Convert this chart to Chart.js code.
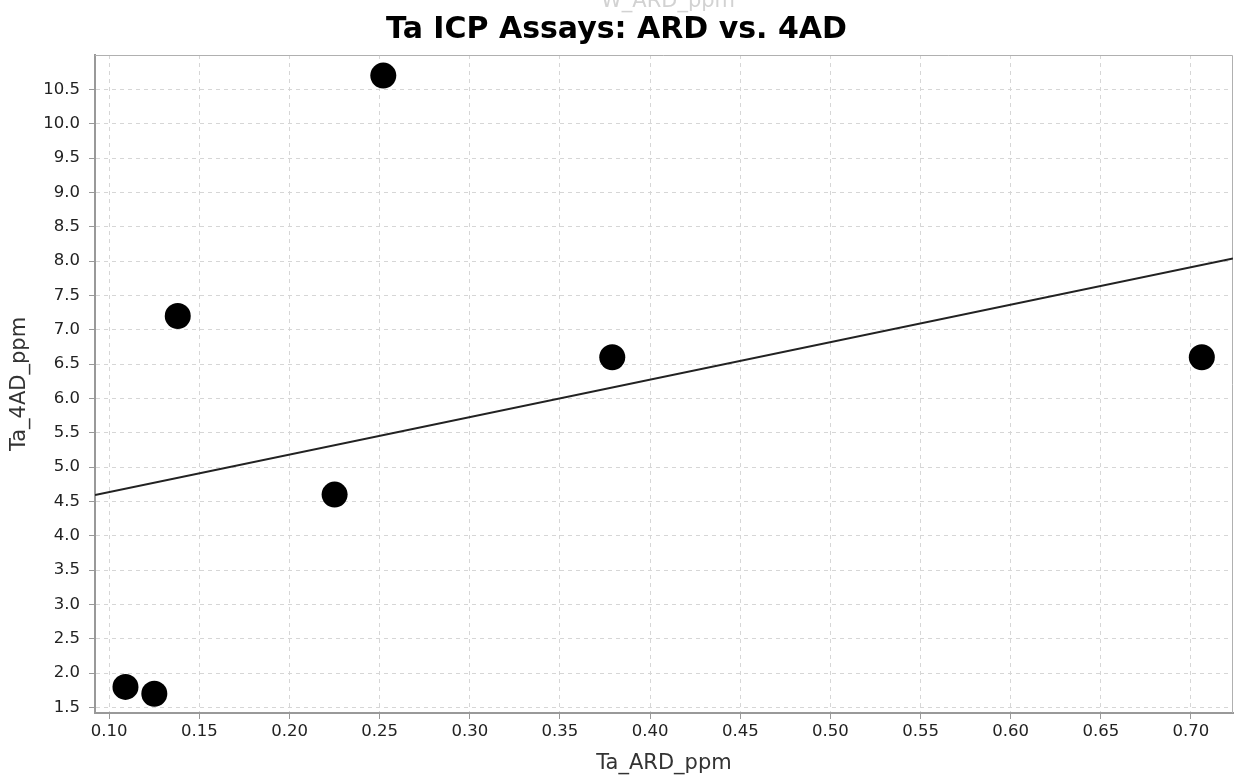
<!DOCTYPE html>
<html>
<head>
<meta charset="utf-8">
<title>Ta ICP Assays: ARD vs. 4AD</title>
<script src="https://cdn.jsdelivr.net/npm/chart.js@4/dist/chart.umd.min.js"></script>
<style>
  html, body { margin: 0; padding: 0; background: #fff; }
  canvas { display: block; }
</style>
</head>
<body>
<canvas id="taChart" width="1237" height="776"></canvas>
<script>
const ardPpm = [0.109, 0.125, 0.138, 0.225, 0.252, 0.379, 0.706];
const fourAdPpm = [1.8, 1.7, 7.2, 4.6, 10.7, 6.6, 6.6];

// Achsen
const xTicks = [0.10, 0.15, 0.20, 0.25, 0.30, 0.35, 0.40, 0.45, 0.50, 0.55, 0.60, 0.65, 0.70];
const yTicks = [1.5, 2.0, 2.5, 3.0, 3.5, 4.0, 4.5, 5.0, 5.5, 6.0, 6.5, 7.0, 7.5, 8.0, 8.5, 9.0, 9.5, 10.0, 10.5];
const xRange = [0.0921, 0.7233];
const yRange = [1.42, 11.0];

const FONT = "'DejaVu Sans', 'Liberation Sans', sans-serif";

/*
Lineare Regression (kleinste Quadrate) fuer die Trendlinie.
 */
function fitLine(xs, ys) {
    const n = xs.length;
    const mx = xs.reduce((a, b) => a + b, 0) / n;
    const my = ys.reduce((a, b) => a + b, 0) / n;
    let sxy = 0, sxx = 0;
    for (let i = 0; i < n; i++) {
        sxy += (xs[i] - mx) * (ys[i] - my);
        sxx += (xs[i] - mx) * (xs[i] - mx);
    }
    const slope = sxy / sxx;
    return {slope: slope, intercept: my - slope * mx};
}

const fit = fitLine(ardPpm, fourAdPpm);
const trend = xRange.map((x) => ({x: x, y: fit.intercept + fit.slope * x}));

// Rahmen oben/rechts + halb verdeckter Text ganz oben
const framePlugin = {
    id: 'frame',
    beforeDatasetsDraw(chart) {
        const {ctx, chartArea} = chart;
        ctx.save();
        ctx.strokeStyle = '#b0b0b0';
        ctx.lineWidth = 1;
        ctx.beginPath();
        ctx.moveTo(chartArea.left, chartArea.top + 0.5);
        ctx.lineTo(chartArea.right - 0.5, chartArea.top + 0.5);
        ctx.lineTo(chartArea.right - 0.5, chartArea.bottom);
        ctx.stroke();
        ctx.restore();
    },
    afterDraw(chart) {
        const ctx = chart.ctx;
        ctx.save();
        ctx.font = "21px " + FONT;
        ctx.fillStyle = '#d2d2d2';
        ctx.textAlign = 'left';
        ctx.textBaseline = 'alphabetic';
        ctx.fillText('W_ARD_ppm', 601, 7);
        ctx.restore();
    }
};

const ctx = document.getElementById('taChart');
const myScatterChart = new Chart(ctx, {
    type: 'scatter',
    data: {
        datasets: [{
            type: 'line',
            data: trend,
            borderColor: '#222',
            borderWidth: 2,
            pointRadius: 0,
            fill: false
        }, {
            data: ardPpm.map((x, i) => ({x: x, y: fourAdPpm[i]})),
            backgroundColor: '#000',
            borderWidth: 0,
            pointRadius: 13,
            pointHoverRadius: 13
        }]
    },
    options: {
        responsive: false,
        animation: false,
        devicePixelRatio: 1,
        layout: {autoPadding: false, padding: {left: 0, right: 4, top: 0, bottom: 0}},
        plugins: {
            legend: {display: false},
            tooltip: {enabled: false},
            title: {
                display: true,
                text: 'Ta ICP Assays: ARD vs. 4AD',
                color: '#000',
                font: {family: FONT, size: 30, weight: 'bold'},
                padding: {top: 12, bottom: 7}
            }
        },
        scales: {
            x: {
                type: 'linear',
                min: xRange[0],
                max: xRange[1],
                afterBuildTicks: (scale) => {
                    scale.ticks = xTicks.map((v) => ({value: v}));
                },
                afterFit: (scale) => {
                    scale.height = 63;
                },
                ticks: {
                    color: '#222',
                    font: {family: FONT, size: 16.5},
                    padding: 3,
                    maxRotation: 0,
                    autoSkip: false,
                    callback: (v) => Number(v).toFixed(2)
                },
                grid: {
                    color: '#d6d6d6',
                    tickColor: '#999',
                    tickLength: 6,
                    tickBorderDash: [1, 0]
                },
                border: {color: '#999', width: 2, dash: [4, 4]},
                title: {
                    display: true,
                    text: 'Ta_ARD_ppm',
                    color: '#333',
                    font: {family: FONT, size: 21},
                    padding: {top: 0, bottom: 0}
                }
            },
            y: {
                type: 'linear',
                min: yRange[0],
                max: yRange[1],
                afterBuildTicks: (scale) => {
                    scale.ticks = yTicks.map((v) => ({value: v}));
                },
                afterFit: (scale) => {
                    scale.width = 95;
                },
                ticks: {
                    color: '#222',
                    font: {family: FONT, size: 16.5},
                    padding: 9,
                    autoSkip: false,
                    callback: (v) => Number(v).toFixed(1)
                },
                grid: {
                    color: '#d6d6d6',
                    tickColor: '#999',
                    tickLength: 6,
                    tickBorderDash: [1, 0]
                },
                border: {color: '#999', width: 2, dash: [4, 4]},
                title: {
                    display: true,
                    text: 'Ta_4AD_ppm',
                    color: '#333',
                    font: {family: FONT, size: 21},
                    padding: {top: 7, bottom: 0}
                }
            }
        }
    },
    plugins: [framePlugin]
});
</script>
</body>
</html>
